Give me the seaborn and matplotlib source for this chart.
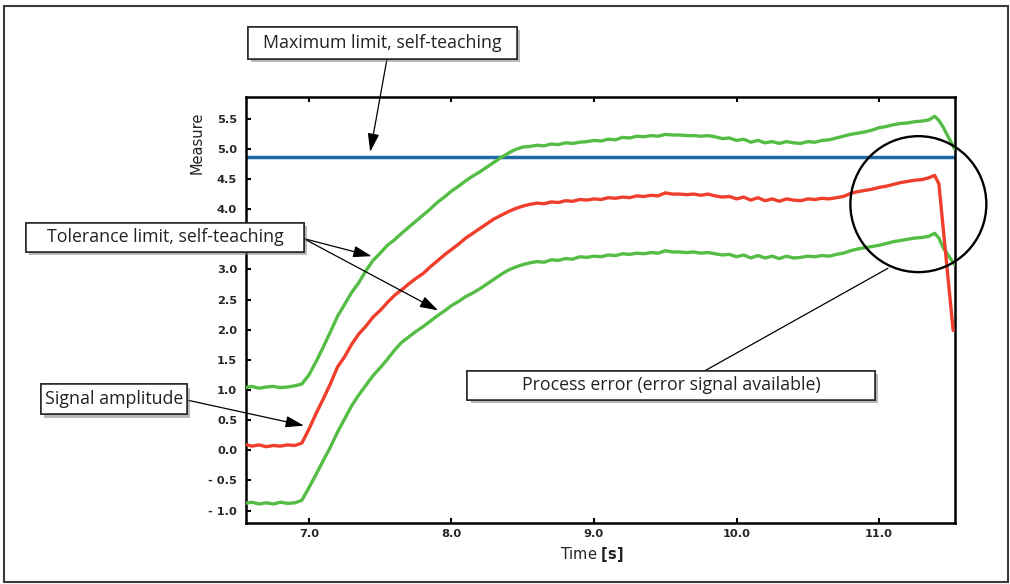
import numpy as np
import matplotlib
matplotlib.use("Agg")
import matplotlib.pyplot as plt
import seaborn as sns
from matplotlib import patheffects
from matplotlib.patches import Rectangle, Ellipse

# sampling grid of the recorded signal [s]
time = np.round(np.arange(6.55, 11.351, 0.05), 2)

# upper tolerance limit (self-teaching)
upper_tol = [
    1.04, 1.06, 1.03, 1.05, 1.06, 1.04, 1.05, 1.07, 1.10,
    1.25, 1.47, 1.71, 1.96, 2.22, 2.42, 2.62, 2.78, 2.98, 3.15,
    3.27, 3.40, 3.49, 3.60, 3.70, 3.80, 3.90, 4.00, 4.11, 4.20,
    4.30, 4.38, 4.47, 4.55, 4.62, 4.70, 4.78, 4.86, 4.93, 4.99,
    5.03, 5.04, 5.06, 5.05, 5.08, 5.07, 5.10, 5.09, 5.11, 5.12,
    5.14, 5.13, 5.16, 5.15, 5.19, 5.18, 5.21, 5.20, 5.22, 5.21,
    5.24, 5.23, 5.23, 5.22, 5.22, 5.21, 5.22, 5.20, 5.17, 5.18,
    5.14, 5.16, 5.11, 5.14, 5.10, 5.12, 5.09, 5.12, 5.10, 5.09,
    5.12, 5.11, 5.14, 5.15, 5.18, 5.21, 5.24, 5.26, 5.28, 5.31,
    5.35, 5.37, 5.40, 5.42, 5.43, 5.45, 5.46, 5.48,
]

# signal amplitude
signal = [
    0.10, 0.07, 0.09, 0.06, 0.08, 0.07, 0.09, 0.08, 0.12,
    0.35, 0.61, 0.85, 1.10, 1.38, 1.55, 1.76, 1.93, 2.06, 2.21,
    2.32, 2.45, 2.57, 2.66, 2.76, 2.85, 2.93, 3.04, 3.14, 3.24,
    3.33, 3.42, 3.52, 3.60, 3.68, 3.76, 3.84, 3.90, 3.96, 4.01,
    4.05, 4.08, 4.10, 4.09, 4.12, 4.11, 4.14, 4.13, 4.16, 4.15,
    4.17, 4.16, 4.19, 4.18, 4.20, 4.19, 4.22, 4.21, 4.23, 4.22,
    4.27, 4.25, 4.25, 4.24, 4.25, 4.23, 4.25, 4.22, 4.20, 4.21,
    4.17, 4.20, 4.15, 4.19, 4.14, 4.17, 4.13, 4.17, 4.15, 4.14,
    4.17, 4.16, 4.18, 4.17, 4.19, 4.21, 4.26, 4.29, 4.31, 4.33,
    4.36, 4.38, 4.41, 4.44, 4.46, 4.48, 4.49, 4.52,
]

# lower tolerance limit (self-teaching)
lower_tol = [
    -0.88, -0.86, -0.89, -0.87, -0.89, -0.86, -0.88, -0.87, -0.83,
    -0.62, -0.40, -0.17, 0.05, 0.30, 0.52, 0.74, 0.92, 1.08, 1.24,
    1.37, 1.51, 1.66, 1.79, 1.88, 1.97, 2.05, 2.14, 2.23, 2.31,
    2.40, 2.47, 2.55, 2.61, 2.68, 2.76, 2.84, 2.92, 2.99, 3.04,
    3.08, 3.11, 3.13, 3.12, 3.16, 3.15, 3.18, 3.17, 3.21, 3.20,
    3.22, 3.21, 3.24, 3.23, 3.26, 3.25, 3.27, 3.26, 3.28, 3.27,
    3.31, 3.29, 3.29, 3.28, 3.29, 3.27, 3.28, 3.26, 3.24, 3.25,
    3.21, 3.24, 3.19, 3.23, 3.19, 3.22, 3.18, 3.22, 3.19, 3.20,
    3.22, 3.21, 3.23, 3.22, 3.25, 3.27, 3.31, 3.34, 3.36, 3.38,
    3.40, 3.43, 3.46, 3.48, 3.50, 3.52, 3.53, 3.55,
]

# end of the record (process error)
time_tail_tol = [11.39, 11.42, 11.45, 11.49, 11.53]
upper_tail = [5.54, 5.47, 5.36, 5.18, 5.00]
lower_tail = [3.60, 3.52, 3.36, 3.22, 3.08]
time_tail_sig = [11.39, 11.42, 11.47, 11.52]
signal_tail = [4.56, 4.42, 3.20, 1.99]

max_limit = 4.86

x_ticks = [7.0, 8.0, 9.0, 10.0, 11.0]
x_tick_labels = ["7.0", "8.0", "9.0", "10.0", "11.0"]
y_ticks = [-1.0, -0.5, 0.0, 0.5, 1.0, 1.5, 2.0, 2.5, 3.0, 3.5, 4.0, 4.5, 5.0, 5.5]
# 3.5 sits under the "Tolerance limit" box in the original
y_tick_labels = ["- 1.0", "- 0.5", "0.0", "0.5", "1.0", "1.5", "2.0", "2.5",
                 "3.0", "", "4.0", "4.5", "5.0", "5.5"]

GREEN = "#55bd46"
RED = "#ef3f2c"
BLUE = "#1f6aa4"

sns.set_style("ticks")
plt.rcParams["font.family"] = ["DejaVu Sans"]

W, H = 1010, 584
fig = plt.figure(figsize=(W / 100, H / 100), dpi=100)
ax = fig.add_axes([245.5 / W, 1 - 523.3 / H, 709.5 / W, 426.3 / H])


def px(x, y):
    # image pixel (top-left origin) -> figure fraction
    return x / W, 1 - y / H


ax.axhline(max_limit, color=BLUE, lw=2.5, zorder=2)
t_tol = list(time) + time_tail_tol
t_sig = list(time) + time_tail_sig
sns.lineplot(x=t_tol, y=upper_tol + upper_tail, ax=ax, color=GREEN, lw=2.4,
             sort=False, estimator=None, zorder=3)
sns.lineplot(x=t_tol, y=lower_tol + lower_tail, ax=ax, color=GREEN, lw=2.4,
             sort=False, estimator=None, zorder=3)
sns.lineplot(x=t_sig, y=signal + signal_tail, ax=ax, color=RED, lw=2.4,
             sort=False, estimator=None, zorder=3)

ax.set_xlim(6.555, 11.533)
ax.set_ylim(-1.21, 5.86)
ax.set_xticks(x_ticks, labels=x_tick_labels, fontweight="bold", fontsize=8.2)
ax.set_yticks(y_ticks, labels=y_tick_labels, fontweight="bold", fontsize=8.2)
ax.tick_params(direction="in", length=3.5, width=1.5, top=True, right=False, color="black")
ax.tick_params(axis="x", pad=4)
ax.tick_params(axis="y", pad=6)
for s in ax.spines.values():
    s.set_linewidth(1.8)
    s.set_color("black")

ax.set_xlabel(r"Time $\mathbf{[s]}$", fontsize=10.5, color="#222222")
ax.xaxis.set_label_coords(0.488, -0.052)
ax.xaxis.label.set_va("top")
ax.set_ylabel("Measure", fontsize=10.5, color="#222222")
ax.yaxis.set_label_coords(-0.058, 0.892)

# circle around the process error
ax.add_patch(Ellipse((11.276, 4.083), 0.954, 2.255, fill=False, ec="black",
                     lw=1.7, clip_on=False, zorder=4))

shadow = [patheffects.withSimplePatchShadow(offset=(2.5, -2.5), shadow_rgbFace="#7f7f7f", alpha=0.55),
          patheffects.Normal()]


def callout(x0, y0, x1, y1, text, size):
    rect = Rectangle(px(x0, y1), (x1 - x0) / W, (y1 - y0) / H, transform=fig.transFigure,
                     facecolor="white", edgecolor="#222222", lw=1.1, zorder=5)
    rect.set_path_effects(shadow)
    fig.add_artist(rect)
    fig.text(*px((x0 + x1) / 2, (y0 + y1) / 2), text, ha="center", va="center",
             fontsize=size, family="Open Sans", color="#222222", zorder=6)


arrow = dict(arrowstyle="-|>,head_length=0.8,head_width=0.25", color="black",
             lw=0.9, mutation_scale=14, shrinkA=0, shrinkB=0)
line = dict(arrowstyle="-", color="black", lw=0.9, shrinkA=0, shrinkB=0)

ax.annotate("", xy=(7.43, 4.95), xytext=px(387, 58.8), textcoords="figure fraction", arrowprops=arrow)
ax.annotate("", xy=(7.44, 3.22), xytext=px(303.5, 238.5), textcoords="figure fraction", arrowprops=arrow)
ax.annotate("", xy=(7.907, 2.32), xytext=px(303.5, 238.5), textcoords="figure fraction", arrowprops=arrow)
ax.annotate("", xy=(6.965, 0.41), xytext=px(186.7, 400), textcoords="figure fraction", arrowprops=arrow)
ax.annotate("", xy=(11.063, 3.02), xytext=px(705, 370.7), textcoords="figure fraction", arrowprops=line)

callout(247.7, 27, 517, 58.8, "Maximum limit, self-teaching", 12.8)
callout(26, 222.7, 304, 251.7, "Tolerance limit, self-teaching", 12.8)
callout(40.7, 384.3, 186.7, 414.3, "Signal amplitude", 12.8)
callout(467.3, 370.7, 875, 400, "Process error (error signal available)", 12.8)

# outer frame
fig.add_artist(Rectangle(px(4, 581.5), 1004 / W, 575.5 / H, transform=fig.transFigure,
                         fill=False, edgecolor="#3a3a3a", lw=1.5, zorder=0))

fig.savefig("out.png", dpi=100)
